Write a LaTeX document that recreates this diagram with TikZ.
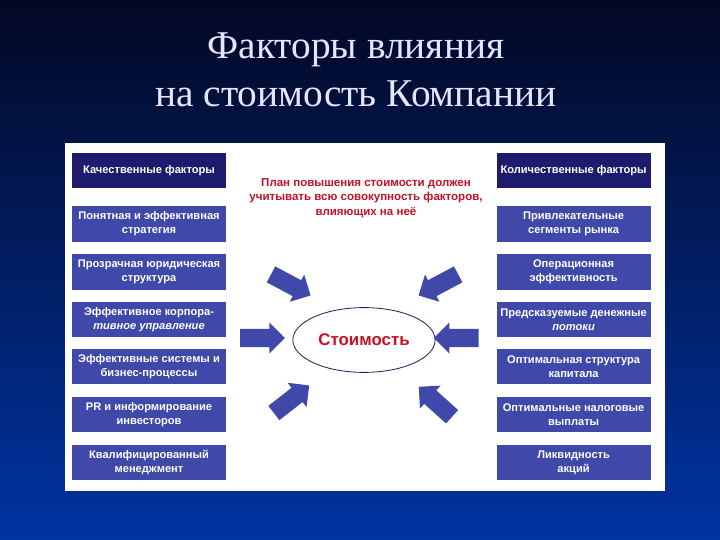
\documentclass[tikz,border=0pt]{standalone}
\usepackage{fontspec}
\setmainfont{Liberation Serif}
\newfontfamily\boxfont{Liberation Sans}
\usetikzlibrary{shapes.arrows,shapes.geometric,backgrounds}
\definecolor{bgtop}{RGB}{3,8,36}
\definecolor{bgmid}{RGB}{0,36,132}
\definecolor{bgbot}{RGB}{0,52,162}
\definecolor{boxblue}{RGB}{64,72,170}
\definecolor{boxnavy}{RGB}{30,27,108}
\definecolor{planred}{RGB}{196,18,36}
\definecolor{ringblue}{RGB}{36,36,96}

\begin{document}
\begin{tikzpicture}[semithick,
 factor/.style={fill=boxblue, text=white, minimum width=3.85cm, minimum height=0.89cm,
  inner sep=1pt, align=center, font=\boxfont\bfseries\fontsize{7.9}{9.8}\selectfont},
 factorhead/.style={factor, fill=boxnavy},
 fatarrow/.style={single arrow, fill=boxblue, minimum height=1.12cm, minimum width=0.76cm,
  single arrow head extend=0.16cm, inner xsep=0pt, inner ysep=0.215cm}]
 \useasboundingbox (0,0) rectangle (18,13.5);
 \shade[top color=bgtop, middle color=bgmid, bottom color=bgbot] (0,0) rectangle (18,13.5);
 \fill[white] (1.625,1.225) rectangle (16.625,9.925);
 \node[text=white!90!blue, align=center, font=\fontsize{28}{34}\selectfont] (title) at (8.9, 11.75) {Факторы влияния\\на стоимость Компании};
 % left column
 \node[factorhead] (q1) at (3.725, 9.24) {Качественные факторы};
 \node[factor] (q2) at (3.725, 7.9) {Понятная и эффективная\\стратегия};
 \node[factor] (q3) at (3.725, 6.7) {Прозрачная юридическая\\структура};
 \node[factor] (q4) at (3.725, 5.51) {Эффективное корпора-\\{\itshape тивное управление}};
 \node[factor] (q5) at (3.725, 4.34) {Эффективные системы и\\бизнес-процессы};
 \node[factor] (q6) at (3.725, 3.14) {PR и информирование\\инвесторов};
 \node[factor] (q7) at (3.725, 1.94) {Квалифицированный\\менеджмент};
 % right column
 \node[factorhead] (k1) at (14.34, 9.24) {Количественные факторы};
 \node[factor] (k2) at (14.34, 7.9) {Привлекательные\\сегменты рынка};
 \node[factor] (k3) at (14.34, 6.7) {Операционная\\эффективность};
 \node[factor] (k4) at (14.34, 5.51) {Предсказуемые денежные\\{\itshape потоки}};
 \node[factor] (k5) at (14.34, 4.34) {Оптимальная структура\\капитала};
 \node[factor] (k6) at (14.34, 3.14) {Оптимальные налоговые\\выплаты};
 \node[factor] (k7) at (14.34, 1.94) {Ликвидность\\акций};
 % centre
 \node[text=planred, align=center, font=\boxfont\bfseries\fontsize{8.2}{10.2}\selectfont] (plan) at (9.15, 8.55) {План повышения стоимости должен\\учитывать всю совокупность факторов,\\влияющих на неё};
 \node[draw=ringblue, semithick, ellipse, minimum width=3.4cm, minimum height=1.62cm, text=planred,
  font=\boxfont\bfseries\fontsize{12}{14}\selectfont] (val) at (9.1, 5.0) {Стоимость};
 \node[fatarrow, rotate=-28] (a1) at (7.17, 6.43) {};
 \node[fatarrow] (a2) at (6.45, 5.05) {};
 \node[fatarrow, rotate=38] (a3) at (7.2, 3.45) {};
 \node[fatarrow, rotate=208] (a4) at (11.06, 6.43) {};
 \node[fatarrow, rotate=180] (a5) at (11.52, 5.05) {};
 \node[fatarrow, rotate=138] (a6) at (10.97, 3.38) {};
% \node[fatarrow, rotate=90] (a7) at (9.1, 3.0) {};
\end{tikzpicture}
\end{document}
